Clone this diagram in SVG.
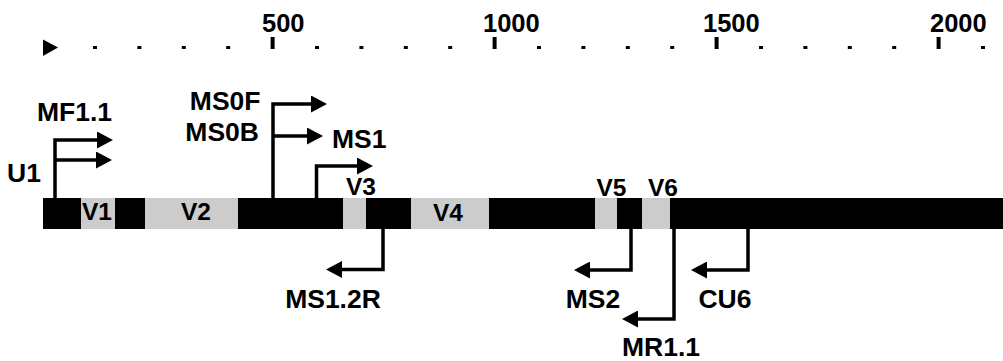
<svg xmlns="http://www.w3.org/2000/svg" width="1003" height="361" viewBox="0 0 1003 361">
  <style>
    text { font-family: "Liberation Sans", Arial, sans-serif; font-weight: bold; fill: #000; }
    .lbl { font-size: 26.5px; }
    .reg { font-size: 24.5px; text-anchor: middle; }
    .scale { font-size: 25.5px; }
    .conn { fill: none; stroke: #000; stroke-width: 3.5; marker-end: url(#ah); }
    .blk { fill: #000; }
    .gry { fill: #cccccc; }
  </style>
  <defs>
    <marker id="ah" markerUnits="userSpaceOnUse" markerWidth="16" markerHeight="17" refX="4" refY="8.5" orient="auto">
      <path d="M0,0 L16,8.5 L0,17 z" fill="#000"/>
    </marker>
  </defs>

  <g id="scale">
    <polygon points="43,39.5 58,47.5 43,56" fill="#000"/>
    <g fill="#000">
      <rect x="93" y="46" width="4" height="3"/>
      <rect x="137.4" y="46" width="4" height="3"/>
      <rect x="181.8" y="46" width="4" height="3"/>
      <rect x="226.2" y="46" width="4" height="3"/>
      <rect x="270.6" y="37" width="4" height="12"/>
      <rect x="315" y="46" width="4" height="3"/>
      <rect x="359.4" y="46" width="4" height="3"/>
      <rect x="403.8" y="46" width="4" height="3"/>
      <rect x="448.2" y="46" width="4" height="3"/>
      <rect x="492.6" y="37" width="4" height="12"/>
      <rect x="537" y="46" width="4" height="3"/>
      <rect x="581.4" y="46" width="4" height="3"/>
      <rect x="625.8" y="46" width="4" height="3"/>
      <rect x="670.2" y="46" width="4" height="3"/>
      <rect x="714.6" y="37" width="4" height="12"/>
      <rect x="759" y="46" width="4" height="3"/>
      <rect x="803.4" y="46" width="4" height="3"/>
      <rect x="847.8" y="46" width="4" height="3"/>
      <rect x="892.2" y="46" width="4" height="3"/>
      <rect x="936.6" y="37" width="4" height="12"/>
      <rect x="981" y="46" width="4" height="3"/>
    </g>
    <text class="scale" x="262" y="32">500</text>
    <text class="scale" x="483" y="32">1000</text>
    <text class="scale" x="703" y="32">1500</text>
    <text class="scale" x="930" y="32">2000</text>
  </g>

  <g id="gene">
    <rect class="blk" x="43" y="198" width="960" height="31"/>
    <rect class="gry" x="81" y="198" width="34" height="31"/>
    <rect class="gry" x="145" y="198" width="93" height="31"/>
    <rect class="gry" x="343" y="198" width="23" height="31"/>
    <rect class="gry" x="411" y="198" width="78" height="31"/>
    <rect class="gry" x="595" y="198" width="22" height="31"/>
    <rect class="gry" x="642" y="198" width="28" height="31"/>
    <text class="reg" x="97" y="220">V1</text>
    <text class="reg" x="196" y="220">V2</text>
    <text class="reg" x="361" y="195">V3</text>
    <text class="reg" x="448" y="221">V4</text>
    <text class="reg" x="611.5" y="196">V5</text>
    <text class="reg" x="663" y="196">V6</text>
  </g>

  <g id="connectors">
    <path class="conn" d="M55,198 V140 H101"/>
    <path class="conn" d="M55,160 H100"/>
    <path class="conn" d="M273,198 V104 H315"/>
    <path class="conn" d="M273,136 H311"/>
    <path class="conn" d="M316.5,198 V166 H361"/>
    <path class="conn" d="M383,229 V269.5 H338"/>
    <path class="conn" d="M631,229 V270 H586"/>
    <path class="conn" d="M674,229 V319 H634"/>
    <path class="conn" d="M748,229 V270 H703"/>
  </g>

  <g id="MF1.1"><text class="lbl" x="37" y="121">MF1.1</text></g>
  <g id="U1"><text class="lbl" x="7" y="182">U1</text></g>
  <g id="MS0F"><text class="lbl" x="260.5" y="110" text-anchor="end">MS0F</text></g>
  <g id="MS0B"><text class="lbl" x="259" y="141" text-anchor="end">MS0B</text></g>
  <g id="MS1"><text class="lbl" x="332" y="148">MS1</text></g>
  <g id="MS1.2R"><text class="lbl" x="333" y="308" text-anchor="middle">MS1.2R</text></g>
  <g id="MS2"><text class="lbl" x="593" y="308" text-anchor="middle">MS2</text></g>
  <g id="CU6"><text class="lbl" x="725" y="308" text-anchor="middle">CU6</text></g>
  <g id="MR1.1"><text class="lbl" x="661" y="356" text-anchor="middle">MR1.1</text></g>
</svg>
